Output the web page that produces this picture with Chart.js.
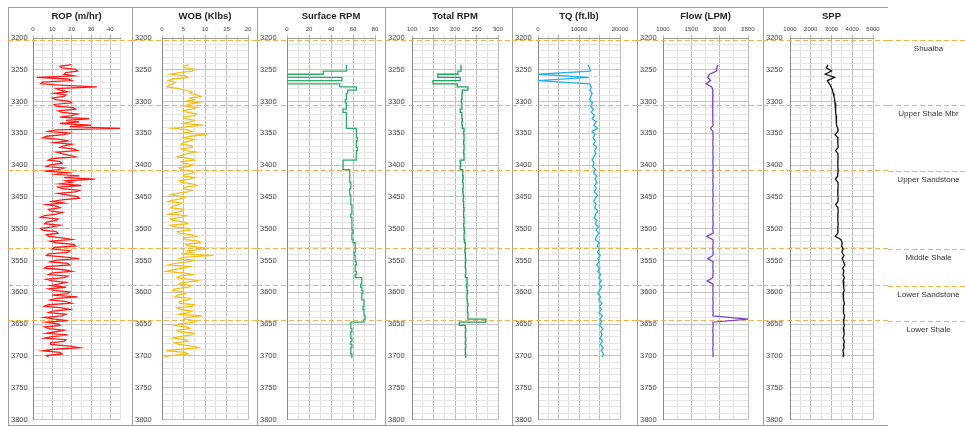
<!DOCTYPE html>
<html>
<head>
<meta charset="utf-8">
<script src="https://cdn.jsdelivr.net/npm/chart.js@4.4.1/dist/chart.umd.min.js"></script>
<style>
  html, body { margin: 0; padding: 0; background: #fff; }
  #wrap { position: relative; width: 965px; height: 427px; overflow: hidden; background: #fff; }
  #wrap canvas { position: absolute; top: 0; }
</style>
</head>
<body>
<div id="wrap"></div>
<script>
// Measured depth (ft) of each drilling-parameter sample
const depth = [3242,3247,3252,3257,3262,3267,3272,3277,3282,3287,
  3292,3297,3302,3307,3312,3317,3322,3327,3332,3337,
  3342,3347,3352,3357,3362,3367,3372,3377,3382,3387,
  3392,3397,3402,3407,3412,3417,3422,3427,3432,3437,
  3442,3447,3452,3457,3462,3467,3472,3477,3482,3487,
  3492,3497,3502,3507,3512,3517,3522,3527,3532,3537,
  3542,3547,3552,3557,3562,3567,3572,3577,3582,3587,
  3592,3597,3602,3607,3612,3617,3622,3627,3632,3637,
  3642,3647,3652,3657,3662,3667,3672,3677,3682,3687,
  3692,3697,3702];

// ROP and WOB are logged at a finer depth interval
const depthFine = [3242,3244.5,3247,3249.5,3252,3254.5,3257,3259.5,3262,3264.5,3267,3269.5,3272,3274.5,3277,3279.5,3282,3284.5,3287,3289.5,
  3292,3294.5,3297,3299.5,3302,3304.5,3307,3309.5,3312,3314.5,3317,3319.5,3322,3324.5,3327,3329.5,3332,3334.5,3337,3339.5,
  3342,3344.5,3347,3349.5,3352,3354.5,3357,3359.5,3362,3364.5,3367,3369.5,3372,3374.5,3377,3379.5,3382,3384.5,3387,3389.5,
  3392,3394.5,3397,3399.5,3402,3404.5,3407,3409.5,3412,3414.5,3417,3419.5,3422,3424.5,3427,3429.5,3432,3434.5,3437,3439.5,
  3442,3444.5,3447,3449.5,3452,3454.5,3457,3459.5,3462,3464.5,3467,3469.5,3472,3474.5,3477,3479.5,3482,3484.5,3487,3489.5,
  3492,3494.5,3497,3499.5,3502,3504.5,3507,3509.5,3512,3514.5,3517,3519.5,3522,3524.5,3527,3529.5,3532,3534.5,3537,3539.5,
  3542,3544.5,3547,3549.5,3552,3554.5,3557,3559.5,3562,3564.5,3567,3569.5,3572,3574.5,3577,3579.5,3582,3584.5,3587,3589.5,
  3592,3594.5,3597,3599.5,3602,3604.5,3607,3609.5,3612,3614.5,3617,3619.5,3622,3624.5,3627,3629.5,3632,3634.5,3637,3639.5,
  3642,3644.5,3647,3649.5,3652,3654.5,3657,3659.5,3662,3664.5,3667,3669.5,3672,3674.5,3677,3679.5,3682,3684.5,3687,3689.5,
  3692,3694.5,3697,3699.5,3702];

// Rate of penetration (m/hr)
const rop = [20,14,15,22,23,17,16,21,2,18,20,5,4,16,33,12,14,18,11,17,
  16,10,12,19,20,11,12,21,22,13,15,23,20,14,29,17,24,14,30,19,
  45,12,8,19,16,7,5,14,18,11,20,16,14,21,23,12,15,19,22,10,
  8,14,15,9,7,16,13,6,18,12,24,16,32,17,20,14,25,13,15,24,
  22,13,18,23,24,15,10,16,7,12,14,8,9,15,12,6,4,13,12,7,
  6,14,10,4,5,12,13,7,8,15,20,9,12,21,22,11,10,19,18,8,
  7,17,24,12,9,18,19,7,6,16,20,10,8,18,16,7,10,17,13,9,
  17,8,11,19,18,10,23,12,9,17,20,8,6,15,19,10,8,17,15,6,
  11,18,7,13,14,6,8,16,12,7,18,10,6,17,16,9,9,19,24,11,
  5,14,15,7,8];

// Weight on bit (Klbs)
const wob = [6.2,5,5.5,7.5,7,4,2,5.5,6,2.5,1.5,3,2.5,1.5,1.2,4,5.3,7,6.5,8,
  9,6.5,7.5,5.5,8.5,6,5.5,8,7,5,6,8,7.5,5,5.5,7.5,6.5,5,9.5,6,
  2.5,6,7,5,10.5,6.5,5,7.5,6.5,5,4.5,7,7,4.5,5.5,8,6,4.5,3.5,6.5,
  7.5,4.5,5,7,6.5,4,4.5,7,7.5,5.5,5,7.5,6.5,4,4.5,7,8,5.5,5,7,
  6,3.5,2,5.5,5,3,1.5,4.5,4,2.5,2,5,5,3,1.5,5.5,4.5,2,2.5,5.5,
  6,2,3,6,6.5,3.5,4,7,8,5,5.5,8.5,9,5.5,6,9.5,10,6,7,4.5,
  12,5.5,4,7.5,6,3,1.5,6.5,5,2.5,1,5,7,4,3.5,6.5,8.5,5,4,7,
  6,3,2.5,5,5.5,3.5,3,6.5,6,4,4,7.5,7,3.5,4.5,7,6,4,9.3,5.5,
  5,8,7.5,4,3,6,6.5,3.5,4,7.5,7,4,2.5,5.5,6,3,4,7,8.5,4.5,
  1,5.5,6,2,0.5];

// Surface rotary speed (RPM)
const surfaceRpm = [54,54,33,0,50,0,48,63,55,54,
  54,53,54,54,51,54,54,54,54,54,
  63,63,63,64,63,63,64,63,63,63,
  51,51,51,57,57,57,57,58,58,57,
  57,58,58,58,59,59,59,58,59,59,
  59,59,60,59,59,60,62,62,62,61,
  62,62,63,62,62,63,62,68,68,67,
  68,69,68,68,70,70,69,70,70,71,
  70,58,58,59,58,58,59,58,59,58,
  58,59,58];

// Total bit speed, surface + motor (RPM)
const totalRpm = [214,214,207,160,212,149,205,230,217,216,
  216,215,216,216,212,216,216,217,216,217,
  221,220,221,221,220,221,221,220,221,221,
  212,213,212,218,218,219,218,219,219,218,
  219,220,219,220,220,221,220,220,221,221,
  220,221,222,221,221,222,224,224,223,224,
  224,225,224,224,225,225,224,228,228,227,
  228,229,228,228,229,230,229,229,230,230,
  272,210,224,225,224,224,225,224,225,224,
  224,225,224];

// Surface torque (ft.lb)
const torque = [12200,12500,12800,0,12400,0,12600,13000,12700,13200,
  12900,12600,13300,12800,13500,13000,13800,13200,14200,13600,
  14500,13200,13900,13400,14000,13500,14300,13800,14100,13600,
  13200,13700,13300,14000,13600,14300,13900,14400,13800,14200,
  13700,14500,14000,13600,14200,13800,14600,14100,13700,14400,
  14000,14700,14200,14800,14300,14000,14900,14400,15000,14500,
  15200,14600,14900,14300,15100,14600,15300,14800,15400,14900,
  15500,15000,14600,15300,14800,15600,15000,15400,14900,15700,
  15100,15500,15000,15800,15300,15600,15100,15700,15200,15900,
  15400,16000,15600];

// Mud flow rate (LPM)
const flow = [1970,1950,1945,1820,1790,1840,1760,1860,1880,1870,
  1880,1875,1880,1880,1875,1880,1880,1880,1880,1885,
  1840,1880,1880,1885,1880,1880,1885,1880,1880,1885,
  1880,1880,1885,1880,1880,1885,1880,1880,1885,1880,
  1880,1885,1880,1880,1885,1880,1880,1885,1880,1880,
  1885,1880,1880,1885,1770,1880,1885,1880,1880,1885,
  1880,1790,1885,1880,1880,1885,1880,1880,1780,1885,
  1880,1880,1885,1880,1880,1885,1880,1880,1885,1880,
  2500,1880,1885,1880,1880,1885,1880,1880,1885,1880,
  1880,1885,1880];

// Standpipe pressure
const spp = [2830,2750,3000,2700,3150,2800,2900,2980,3050,3080,
  3120,3150,3170,3190,3200,3210,3220,3230,3240,3250,
  3300,3310,3170,3310,3300,3310,3320,3200,3310,3320,
  3310,3300,3310,3320,3310,3300,3190,3310,3320,3310,
  3300,3310,3320,3310,3200,3310,3320,3310,3300,3310,
  3320,3310,3300,3310,3180,3450,3520,3480,3560,3500,
  3600,3520,3580,3640,3540,3600,3550,3620,3560,3600,
  3580,3610,3560,3590,3570,3620,3580,3600,3560,3630,
  3600,3580,3620,3570,3600,3610,3560,3620,3580,3600,
  3550,3590,3570];

// Formation tops (ft) and their names
const formationNames = ['Shuaiba', 'Upper Shale Mbr', 'Upper Sandstone', 'Middle Shale', 'Lower Sandstone', 'Lower Shale'];
const formationTops = [3203, 3305, 3408, 3531, 3589, 3643];

// Depth axis range and tick spacing
const depthRange = [3200, 3800];
const depthMinorStep = 10;
const depthLabelStep = 50;

// ---- layout and styling ----
const H = 427, PLOT_TOP = 38, PLOT_BOTTOM = 421, FRAME_TOP = 7, FRAME_BOTTOM = 425;
const FONT = "'Liberation Sans', Arial, sans-serif";

const tracks = [
  { title: 'ROP (m/hr)',  depths: depthFine, values: rop,        color: '#ff1a1a', stepped: false,   min: 0,    max: 45,    grid: 5,    major: 10,   label: 10,    panel: [8, 132],   plot: [33, 120] },
  { title: 'WOB (Klbs)',  depths: depthFine, values: wob,        color: '#f4c01c', stepped: false,   min: 0,    max: 20,    grid: 2.5,  major: 5,    label: 5,     panel: [132, 257], plot: [162, 248] },
  { title: 'Surface RPM', depths: depth,     values: surfaceRpm, color: '#2fae6b', stepped: 'after', min: 0,    max: 80,    grid: 10,   major: 20,   label: 20,    panel: [257, 385], plot: [287, 375] },
  { title: 'Total RPM',   depths: depth,     values: totalRpm,   color: '#1fa25e', stepped: 'after', min: 100,  max: 300,   grid: 25,   major: 50,   label: 50,    panel: [385, 512], plot: [412, 498] },
  { title: 'TQ (ft.lb)',  depths: depth,     values: torque,     color: '#27b2e6', stepped: false,   min: 0,    max: 20000, grid: 2500, major: 5000, label: 10000, panel: [512, 637], plot: [538, 620] },
  { title: 'Flow (LPM)',  depths: depth,     values: flow,       color: '#7b45c9', stepped: false,   min: 1000, max: 2500,  grid: 250,  major: 500,  label: 500,   panel: [637, 763], plot: [663, 748] },
  { title: 'SPP',         depths: depth,     values: spp,        color: '#111111', stepped: false,   min: 1000, max: 5000,  grid: 500,  major: 1000, label: 1000,  panel: [763, 888], plot: [790, 873] }
];
const formationPanel = [888, 965];

const wrap = document.getElementById('wrap');
function isMult(v, s) { return Math.abs(v / s - Math.round(v / s)) < 1e-6; }
function makeCanvas(left, width) {
  const c = document.createElement('canvas');
  c.width = width; c.height = H;
  c.style.left = left + 'px';
  c.style.width = width + 'px'; c.style.height = H + 'px';
  wrap.appendChild(c);
  return c;
}

// White background and the grey panel frame
const panelFrame = {
  id: 'panelFrame',
  beforeDraw(chart, args, opts) {
    const ctx = chart.ctx, w = chart.width;
    ctx.save();
    ctx.fillStyle = '#fff';
    ctx.fillRect(0, 0, w, chart.height);
    if (opts.show) {
      ctx.strokeStyle = '#a0a0a0';
      ctx.lineWidth = 1;
      ctx.beginPath();
      ctx.moveTo(0.5, FRAME_TOP); ctx.lineTo(0.5, FRAME_BOTTOM);
      ctx.moveTo(0, FRAME_TOP + 0.5); ctx.lineTo(w, FRAME_TOP + 0.5);
      ctx.moveTo(0, FRAME_BOTTOM + 0.5); ctx.lineTo(w, FRAME_BOTTOM + 0.5);
      if (opts.right) { ctx.moveTo(w - 0.5, FRAME_TOP); ctx.lineTo(w - 0.5, FRAME_BOTTOM); }
      ctx.stroke();
    }
    ctx.restore();
  }
};

// Dashed formation-top markers across the whole panel width
const formationLines = {
  id: 'formationLines',
  beforeDatasetsDraw(chart) {
    const ctx = chart.ctx, ys = chart.scales.y;
    ctx.save();
    ctx.strokeStyle = 'rgba(244,170,60,0.9)';
    ctx.lineWidth = 1;
    ctx.setLineDash([5, 3]);
    formationTops.forEach(d => {
      const y = Math.round(ys.getPixelForValue(d)) + 0.5;
      ctx.beginPath();
      ctx.moveTo(0, y); ctx.lineTo(chart.width, y);
      ctx.stroke();
    });
    ctx.restore();
  }
};

tracks.forEach((t, k) => {
  const last = k === tracks.length - 1;
  const w = t.panel[1] - t.panel[0] + (last ? 1 : 0);
  const canvas = makeCanvas(t.panel[0], w);
  const padLeft = 3;
  new Chart(canvas, {
    type: 'line',
    data: {
      datasets: [{
        data: t.depths.map((d, i) => ({ x: t.values[i], y: d })),
        borderColor: t.color,
        borderWidth: 1.3,
        pointRadius: 0,
        fill: false,
        tension: 0,
        stepped: t.stepped
      }]
    },
    options: {
      indexAxis: 'y',
      responsive: false,
      animation: false,
      events: [],
      layout: { padding: { left: padLeft, right: w - (t.plot[1] - t.panel[0]), top: 0, bottom: H - PLOT_BOTTOM } },
      plugins: {
        legend: { display: false },
        tooltip: { enabled: false },
        panelFrame: { show: true, right: last }
      },
      scales: {
        x: {
          type: 'linear', position: 'top', min: t.min, max: t.max,
          afterFit(s) { s.height = PLOT_TOP; },
          title: { display: true, text: t.title, color: '#222', font: { family: FONT, size: 9.5, weight: 'bold' }, padding: { top: 11, bottom: 0 } },
          ticks: {
            stepSize: t.grid, autoSkip: false, maxRotation: 0, minRotation: 0, padding: 2,
            color: '#444', font: { family: FONT, size: 6 },
            callback: v => isMult(v, t.label) ? String(v) : ''
          },
          grid: {
            color: c => (c.tick && isMult(c.tick.value, t.major)) ? '#bdbdbd' : '#e3e3e3',
            tickLength: 3, drawTicks: true
          },
          border: { color: '#9a9a9a' }
        },
        y: {
          type: 'linear', reverse: true, min: depthRange[0], max: depthRange[1],
          afterFit(s) { s.width = t.plot[0] - t.panel[0] - padLeft; },
          ticks: {
            stepSize: depthMinorStep, autoSkip: false, padding: 3, crossAlign: 'far',
            color: '#444', font: { family: FONT, size: 7.5 },
            callback: v => isMult(v, depthLabelStep) ? String(v) : ''
          },
          grid: {
            color: c => (c.tick && isMult(c.tick.value, depthLabelStep)) ? '#c4c4c4' : '#e6e6e6',
            drawTicks: false
          },
          border: { color: '#8a8a8a' }
        }
      }
    },
    plugins: [panelFrame, formationLines]
  });
});

// Formation names column to the right of the tracks
const formationLabels = {
  id: 'formationLabels',
  afterDatasetsDraw(chart) {
    const ctx = chart.ctx;
    const meta = chart.getDatasetMeta(0);
    ctx.save();
    ctx.fillStyle = '#333';
    ctx.font = '8px ' + FONT;
    ctx.textAlign = 'center';
    ctx.textBaseline = 'middle';
    meta.data.forEach((pt, i) => {
      ctx.fillText(formationNames[i], chart.width / 2 + 2, pt.y);
    });
    ctx.restore();
  }
};
{
  const w = formationPanel[1] - formationPanel[0];
  const canvas = makeCanvas(formationPanel[0], w);
  new Chart(canvas, {
    type: 'scatter',
    data: {
      datasets: [{
        // each name sits just below its formation top
        data: formationTops.map(d => ({ x: 0, y: d + 14 })),
        pointRadius: 0
      }]
    },
    options: {
      responsive: false,
      animation: false,
      events: [],
      layout: { padding: { left: 0, right: 0, top: PLOT_TOP, bottom: H - PLOT_BOTTOM } },
      plugins: { legend: { display: false }, tooltip: { enabled: false }, panelFrame: { show: false } },
      scales: {
        x: { type: 'linear', min: -1, max: 1, display: false },
        y: { type: 'linear', reverse: true, min: depthRange[0], max: depthRange[1], display: false }
      }
    },
    plugins: [panelFrame, formationLines, formationLabels]
  });
}
</script>
</body>
</html>
